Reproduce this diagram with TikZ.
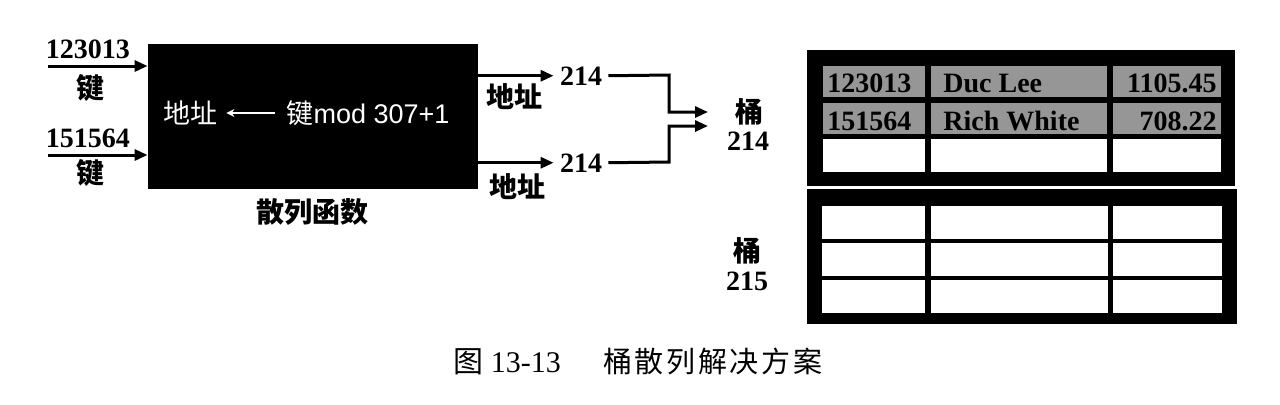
\documentclass[tikz,border=0pt]{standalone}
\usepackage{fontspec}
\setmainfont{Liberation Serif}
\newfontfamily\cjk{Noto Sans CJK SC}
\newfontfamily\cjkcap{Noto Sans CJK SC}[LetterSpace=9]
\newfontfamily\sansf{Liberation Sans}
\usetikzlibrary{arrows.meta}
\definecolor{cellgray}{RGB}{150,150,150}
\begin{document}
\begin{tikzpicture}[x=0.5pt,y=-0.5pt,
  num/.style={font=\fontsize{14}{16}\selectfont\bfseries, inner sep=0.5pt},
  cjkl/.style={font=\fontsize{14}{16}\selectfont\cjk\bfseries, inner sep=0.5pt},
  wht/.style={text=white, font=\fontsize{13.5}{16}\selectfont\sansf, inner sep=0.5pt},
  arr/.style={line width=1.5pt, -{Triangle[length=6.5pt,width=5.5pt]}},
  thinarr/.style={line width=0.9pt, white, -{Stealth[length=4pt,width=4pt]}},
  gcell/.style={fill=cellgray},
  wcell/.style={fill=white}]
\useasboundingbox (0,0) rectangle (1280,404);
\fill[white] (0,0) rectangle (1280,404);

% hash function box
\node[fill=black, inner sep=0pt, minimum width=165pt, minimum height=72.5pt] (hash) at (313,116.5) {};
\node[wht] (addrin) at (190,113) {\cjk 地址};
\node[wht] (keymod) at (368,113) {{\cjk 键}mod 307+1};
\draw[thinarr] ([xshift=-5pt]keymod.west) -- ([xshift=4pt]addrin.east);
\node[cjkl] (hfname) at (312,212) {散列函数};

% inputs
\node[num, anchor=base] (k1) at (88,58) {123013};
\node[cjkl] (j1) at (90,88) {键};
\coordinate (i1) at (48,66);
\draw[arr] (i1) -- (i1 -| hash.west);
\node[num, anchor=base] (k2) at (88,147) {151564};
\node[cjkl] (j2) at (90,173) {键};
\coordinate (i2) at (48,155);
\draw[arr] (i2) -- (i2 -| hash.west);

% outputs
\node[num, anchor=base] (t1) at (581,85) {214};
\node[num, anchor=base] (t2) at (581,172) {214};
\draw[arr] (t1.west -| hash.east) -- ([xshift=-2.5pt]t1.west);
\draw[arr] (t2.west -| hash.east) -- ([xshift=-2.5pt]t2.west);
\node[cjkl] (a1) at (514,97) {地址};
\node[cjkl] (a2) at (517,187) {地址};
\coordinate (jn1) at (669,75);
\coordinate (jn2) at (669,162);
\coordinate (b1) at (708,112);
\coordinate (b2) at (708,126);
\draw[arr] ([xshift=2.5pt]t1.east) -- (jn1) |- (b1);
\draw[arr] ([xshift=2.5pt]t2.east) -- (jn2) |- (b2);

% bucket labels
\node[cjkl] (tong1) at (749,112) {桶};
\node[num, anchor=base] (n214) at (748,150) {214};
\node[cjkl] (tong2) at (747,251) {桶};
\node[num, anchor=base] (n215) at (747,290) {215};

% bucket 214 table
\fill (807,50) rectangle (1235,186);
\fill[gcell] (823,66) rectangle (925,97);
\fill[gcell] (931,66) rectangle (1107,97);
\fill[gcell] (1113,66) rectangle (1221,97);
\fill[gcell] (823,103) rectangle (925,134);
\fill[gcell] (931,103) rectangle (1107,134);
\fill[gcell] (1113,103) rectangle (1221,134);
\fill[wcell] (823,139) rectangle (925,172);
\fill[wcell] (931,139) rectangle (1107,172);
\fill[wcell] (1113,139) rectangle (1221,172);
\node[num, anchor=base west] (c11) at (826,92) {123013};
\node[num, anchor=base west] (c12) at (942,92) {Duc Lee};
\node[num, anchor=base east] (c13) at (1218,92) {1105.45};
\node[num, anchor=base west] (c21) at (826,130) {151564};
\node[num, anchor=base west] (c22) at (942,130) {Rich White};
\node[num, anchor=base east] (c23) at (1218,130) {708.22};

% bucket 215 table
\fill (807,189) rectangle (1237,324);
\foreach \ya/\yb in {206/239, 243/276, 280/313}{
  \fill[wcell] (822,\ya) rectangle (925,\yb);
  \fill[wcell] (931,\ya) rectangle (1108,\yb);
  \fill[wcell] (1113,\ya) rectangle (1222,\yb);
}

% caption
\node[inner sep=0pt, anchor=base west] (cap1) at (453,372) {\fontsize{15}{17}\selectfont{\cjk 图} 13-13};
\node[inner sep=0pt, anchor=base west] (cap2) at (603,372) {\fontsize{14.5}{17}\selectfont\cjkcap 桶散列解决方案};
\end{tikzpicture}
\end{document}
